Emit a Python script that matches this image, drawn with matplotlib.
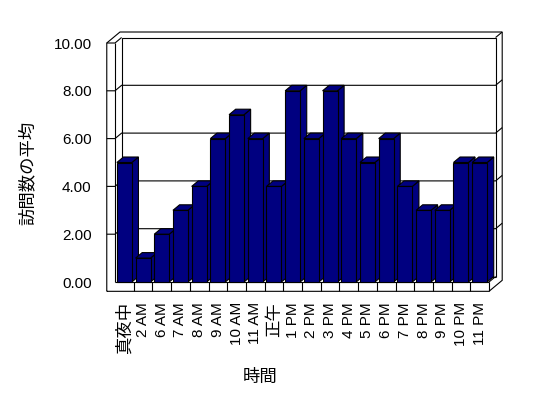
import matplotlib
matplotlib.use('Agg')
import matplotlib.pyplot as plt
from matplotlib.patches import Polygon

categories = ['真夜中', '2 AM', '6 AM', '7 AM', '8 AM', '9 AM', '10 AM', '11 AM', '正午',
              '1 PM', '2 PM', '3 PM', '4 PM', '5 PM', '6 PM', '7 PM', '8 PM', '9 PM',
              '10 PM', '11 PM']
values = [5, 1, 2, 3, 4, 6, 7, 6, 4, 8, 6, 8, 6, 5, 6, 4, 3, 3, 5, 5]
yticks = [0, 2, 4, 6, 8, 10]
ytick_labels = ['0.00', '2.00', '4.00', '6.00', '8.00', '10.00']
ylabel = '訪問数の平均'
xlabel = '時間'

plt.rcParams['font.family'] = ['Liberation Sans', 'Noto Sans CJK JP']

W, H = 548, 398
fig = plt.figure(figsize=(W / 100, H / 100), dpi=100)
ax = fig.add_axes([115 / W, (H - 282) / H, 374 / W, 239 / H])
n = len(categories)
ax.set_xlim(-0.5, n - 0.5)
ax.set_ylim(0, 10)
for s in ax.spines.values():
    s.set_visible(False)
ax.patch.set_visible(False)

BAR = '#000080'
LW = 0.8
DX, DY = 0.353, 0.23     # depth shift (data units)
WT = 0.44                # left wall thickness
FT = 0.39                # floor thickness
xi = -0.5
xo = xi - WT
R = n - 0.5
top = 10


def line(xs, ys, z=1):
    ax.plot(xs, ys, color='black', lw=LW, clip_on=False, zorder=z,
            solid_joinstyle='miter', solid_capstyle='butt')


# outer silhouette
line([xo, xo, xo + 2 * DX, R + 2 * DX, R + 2 * DX, R, xo],
     [-FT, top, top + 2 * DY, top + 2 * DY, -FT + 2 * DY, -FT, -FT])
# left wall inner lines
line([xi, xi], [0, top])
line([xo, xi, xi + DX], [top, top, top + DY])
# back plane
line([xi + DX, xi + DX, R + DX, R + DX], [DY, top + DY, top + DY, DY])
line([R + DX, R + 2 * DX], [top + DY, top + 2 * DY])
# floor
line([xi, R], [0, 0])
line([R, R], [-FT, 0])
line([R, R + DX], [0, DY])
line([xi + DX, R + DX], [DY, DY])
for k in range(1, n):
    line([k - 0.5, k - 0.5], [-FT, 0])
# gridlines
for v in yticks[1:-1]:
    line([xo, xi, xi + DX, R + DX, R + 2 * DX], [v, v, v + DY, v + DY, v + 2 * DY])

# bars
x = list(range(n))
bw = 0.8
bars = ax.bar(x, values, width=bw, color=BAR, edgecolor='black', linewidth=LW)
for i, (p, v) in enumerate(zip(bars.patches, values)):
    p.set_zorder(10 + 2 * i + 1)
    p.set_clip_on(False)
    l, r = i - bw / 2, i + bw / 2
    side = Polygon([(r, 0), (r, v), (r + DX, v + DY), (r + DX, DY)], closed=True,
                   facecolor=BAR, edgecolor='black', lw=LW, zorder=10 + 2 * i,
                   clip_on=False, joinstyle='miter')
    topf = Polygon([(l, v), (r, v), (r + DX, v + DY), (l + DX, v + DY)], closed=True,
                   facecolor=BAR, edgecolor='black', lw=LW, zorder=10 + 2 * i,
                   clip_on=False, joinstyle='miter')
    ax.add_patch(side)
    ax.add_patch(topf)

# ticks
ax.set_xticks(x)
ax.set_xticklabels(categories, rotation=90, fontsize=11)
for t in ax.get_xticklabels():
    if any(ord(c) > 0x3000 for c in t.get_text()):
        t.set_fontsize(12.5)
ax.set_yticks(yticks)
ax.set_yticklabels(ytick_labels, fontsize=11)
ax.tick_params(axis='x', length=0, pad=14.4)
ax.tick_params(axis='y', length=0, pad=16.8)

fig.text(27.5 / W, 1 - 172.5 / H, ylabel, rotation=90, ha='center', va='center',
         fontsize=12.5)
fig.text(259.7 / W, 1 - 377 / H, xlabel, ha='center', va='center', fontsize=12.5)

fig.savefig('out.png', dpi=100, facecolor='white')
